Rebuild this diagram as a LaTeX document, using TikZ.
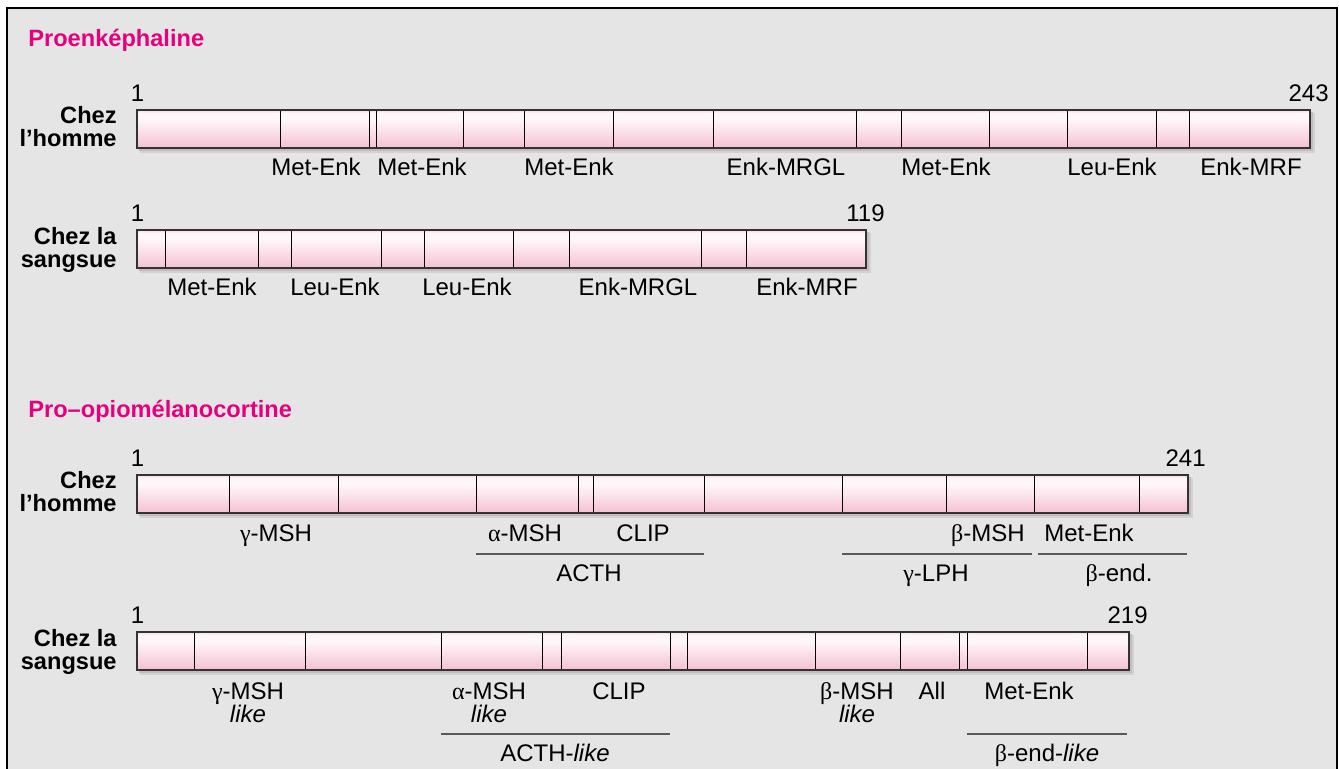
\documentclass[tikz,border=0pt]{standalone}
\usepackage{fontspec}
\setmainfont{Liberation Sans}
\newfontfamily\grk{Liberation Serif}
\definecolor{pinkHead}{HTML}{E5007D}
\definecolor{bgGray}{HTML}{E5E5E5}
\definecolor{barTop}{HTML}{F9D8E4}
\definecolor{barMid}{HTML}{FEF6F8}
\definecolor{barBot}{HTML}{F5C0D2}
\definecolor{shadowGray}{HTML}{C3BCBF}
\pgfdeclareverticalshading{barshade}{100bp}{color(0bp)=(barBot); color(25bp)=(barBot);
  color(45bp)=(barMid!55!barBot); color(62bp)=(barMid); color(71bp)=(barMid);
  color(75bp)=(barTop); color(100bp)=(barTop)}

\begin{document}
\begin{tikzpicture}[x=0.5pt, y=-0.5pt, font=\fontsize{12}{11.5}\selectfont]

    \tikzset{pep/.style={anchor=base, inner sep=0pt},
        num/.style={anchor=base, inner sep=0pt},
        species/.style={anchor=base east, inner sep=0pt, align=right,
            font=\fontsize{11.8}{11.5}\selectfont\bfseries},
        heading/.style={anchor=base west, inner sep=0pt, text=pinkHead,
            font=\fontsize{11.8}{14}\selectfont\bfseries},
        span/.style={draw=black!65, line width=0.65pt}}
    \def\gr#1{{\grk #1}}

    % one precursor: #1 top, #2 right end, #3 cleavage sites
    \def\pepbar#1#2#3{
        \fill[shadowGray!50!bgGray] (140,#1+3) rectangle (#2+5,#1+43);
        \fill[shadowGray] (139,#1+2) rectangle (#2+3,#1+41);
        \shade[shading=barshade] (137,#1) rectangle (#2,#1+38);
        \foreach \x in {#3}
            \draw[line width=0.5pt] (\x,#1) -- (\x,#1+38);
        \draw[black!80, line width=0.6pt] (137,#1) rectangle (#2,#1+38);
    }

    \useasboundingbox (0,0) rectangle (1339,769);
    \clip (0,0) rectangle (1339,769);
    \fill[white] (0,0) rectangle (1339,769);
    \fill[bgGray] (7,8) rectangle (1337,790);
    \draw[line width=0.8pt] (7,790) -- (7,8) -- (1337,8) -- (1337,790);

    % proenkephaline
    \node[heading] (penk) at (28,47) {Proenképhaline};

    \pepbar{110}{1310}{280,369,376,463,524,613,713,856,901,989,1067,1156,1189}
    \node[num] (pe-h-first) at (137.5,102) {1};
    \node[num, anchor=base east] (pe-h-last) at (1329,102) {243};
    \node[species] (pe-h) at (117,147) {Chez\\l’homme};
    \foreach \x/\t [count=\i] in {316/Met-Enk, 422/Met-Enk, 569/Met-Enk,
        786/Enk-MRGL, 946/Met-Enk, 1112/Leu-Enk, 1251/Enk-MRF}
        \node[pep] (pe-h-\i) at (\x,176) {\t};

    \pepbar{230}{866}{165,258,291,381,424,513,569,701,746}
    \node[num] (pe-s-first) at (137.5,222) {1};
    \node[num, anchor=base east] (pe-s-last) at (885,222) {119};
    \node[species] (pe-s) at (117,268) {Chez la\\sangsue};
    \foreach \x/\t [count=\i] in {212/Met-Enk, 335/Leu-Enk, 467/Leu-Enk,
        638/Enk-MRGL, 807/Enk-MRF}
        \node[pep] (pe-s-\i) at (\x,296) {\t};

    % pro-opiomelanocortine
    \node[heading] (pomc) at (28,418) {Pro–opiomélanocortine};

    \pepbar{475}{1188}{229,338,476,578,593,704,842,946,1034,1139}
    \node[num] (po-h-first) at (137.5,467) {1};
    \node[num, anchor=base east] (po-h-last) at (1206,467) {241};
    \node[species] (po-h) at (117,512) {Chez\\l’homme};
    \node[pep] (po-h-gmsh) at (276,542) {\gr{γ}-MSH};
    \node[pep] (po-h-amsh) at (525,542) {\gr{α}-MSH};
    \node[pep] (po-h-clip) at (643,542) {CLIP};
    \node[pep] (po-h-bmsh) at (988,542) {\gr{β}-MSH};
    \node[pep] (po-h-menk) at (1089,542) {Met-Enk};

    \coordinate (acth-a) at (476,554);
    \coordinate (acth-b) at (704,554);
    \coordinate (glph-a) at (842,554);
    \coordinate (glph-b) at (1032,554);
    \coordinate (bend-a) at (1038,554);
    \coordinate (bend-b) at (1187,554);
    \draw[span] (acth-a) -- (acth-b);
    \draw[span] (glph-a) -- (glph-b);
    \draw[span] (bend-a) -- (bend-b);
    \node[pep] (acth) at (589,582) {ACTH};
    \node[pep] (glph) at (936,582) {\gr{γ}-LPH};
    \node[pep] (bend) at (1119,582) {\gr{β}-end.};

    \pepbar{632}{1129}{194,305,441,542,561,670,687,815,900,959,967,1087}
    \node[num] (po-s-first) at (137.5,624) {1};
    \node[num, anchor=base east] (po-s-last) at (1148,624) {219};
    \node[species] (po-s) at (117,669) {Chez la\\sangsue};
    \node[pep, align=center] (po-s-gmsh) at (248,723) {\gr{γ}-MSH\\\textit{like}};
    \node[pep, align=center] (po-s-amsh) at (489,723) {\gr{α}-MSH\\\textit{like}};
    \node[pep] (po-s-clip) at (619,699) {CLIP};
    \node[pep, align=center] (po-s-bmsh) at (857,723) {\gr{β}-MSH\\\textit{like}};
    \node[pep] (po-s-all) at (932,699) {All};
    \node[pep] (po-s-menk) at (1029,699) {Met-Enk};

    \coordinate (acthl-a) at (441,734);
    \coordinate (acthl-b) at (670,734);
    \coordinate (bendl-a) at (967,734);
    \coordinate (bendl-b) at (1127,734);
    \draw[span] (acthl-a) -- (acthl-b);
    \draw[span] (bendl-a) -- (bendl-b);
    \node[pep] (acthl) at (555,762) {ACTH-\textit{like}};
    \node[pep] (bendl) at (1047,762) {\gr{β}-end-\textit{like}};

\end{tikzpicture}
\end{document}
